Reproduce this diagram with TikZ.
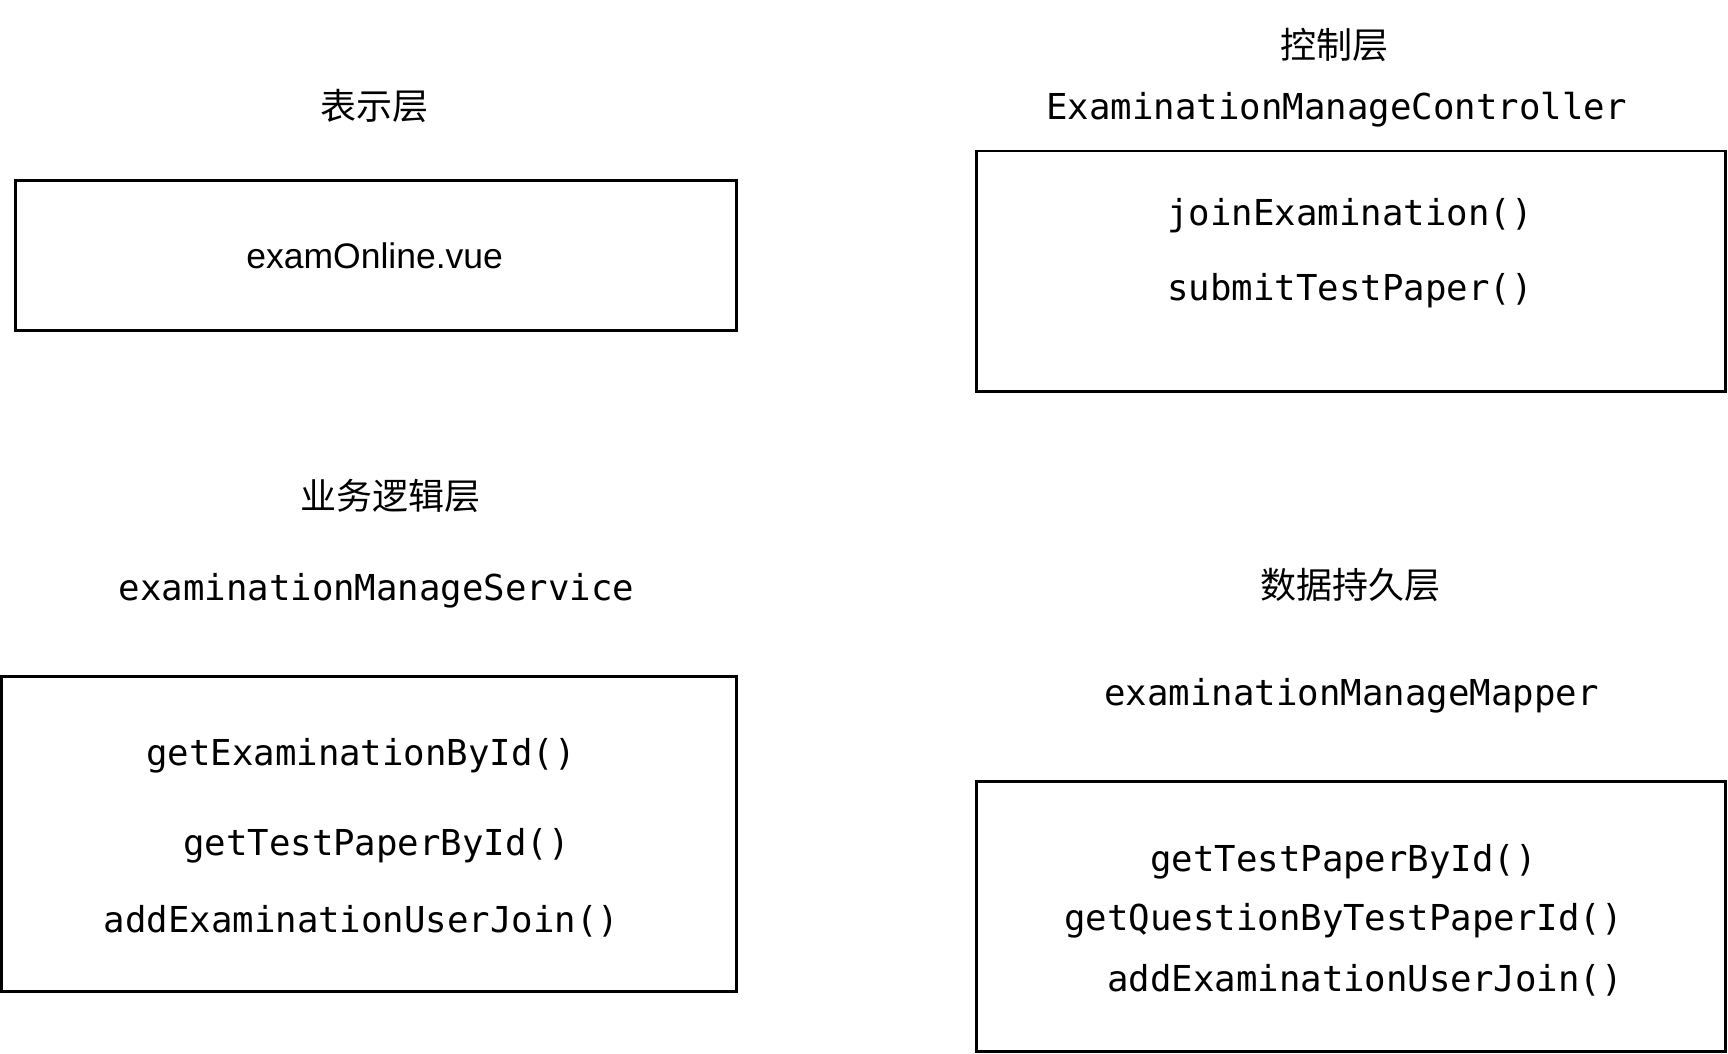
\documentclass[tikz,border=0pt]{standalone}
\usepackage{fontspec}
\setmainfont{Liberation Sans}
\setmonofont{DejaVu Sans Mono}
\newfontfamily\cjk{Noto Sans CJK SC}
\tikzset{
  layerbox/.style={draw=black, line width=2.8pt, rectangle, inner sep=0pt},
  cjklabel/.style={font=\cjk\fontsize{36}{42}\selectfont, inner sep=0pt},
  codetext/.style={font=\ttfamily\fontsize{35.7}{40}\selectfont, inner sep=0pt},
  plaintext/.style={font=\fontsize{35.5}{40}\selectfont, inner sep=0pt}
}
\begin{document}
\begin{tikzpicture}[x=1pt, y=-1pt]
\useasboundingbox (0,0) rectangle (1728,1053);
% boxes
\node[layerbox, minimum width=720.7pt, minimum height=149.9pt] (box1) at (375.75,255.65) {};
\node[layerbox, minimum width=749.3pt, minimum height=240.2pt] (box2) at (1351.05,271.1) {};
\node[layerbox, minimum width=735pt, minimum height=315.2pt] (box3) at (368.6,834.2) {};
\node[layerbox, minimum width=749.3pt, minimum height=270pt] (box4) at (1351.05,916.3) {};
% presentation layer
\node[cjklabel] (t1) at (374.7,105.5) {表示层};
\node[plaintext] (v1) at (374.7,255.6) {examOnline.vue};
% control layer
\node[cjklabel] (t2) at (1334.5,45) {控制层};
\node[codetext] (c2) at (1336.5,110) {ExaminationManageController};
\node[codetext] (m21) at (1350,215.7) {joinExamination()};
\node[codetext] (m22) at (1350,290.6) {submitTestPaper()};
% business layer
\node[cjklabel] (t3) at (390,495.8) {业务逻辑层};
\node[codetext] (c3) at (376.5,590.4) {examinationManageService};
\node[codetext] (m31) at (361,755.7) {getExaminationById()};
\node[codetext] (m32) at (376.5,846) {getTestPaperById()};
\node[codetext] (m33) at (361.5,921) {addExaminationUserJoin()};
% persistence layer
\node[cjklabel] (t4) at (1350,585) {数据持久层};
\node[codetext] (c4) at (1351.5,696.2) {examinationManageMapper};
\node[codetext] (m41) at (1343.5,861.5) {getTestPaperById()};
\node[codetext] (m42) at (1343.5,921) {getQuestionByTestPaperId()};
\node[codetext] (m43) at (1365,980.5) {addExaminationUserJoin()};
\end{tikzpicture}
\end{document}
